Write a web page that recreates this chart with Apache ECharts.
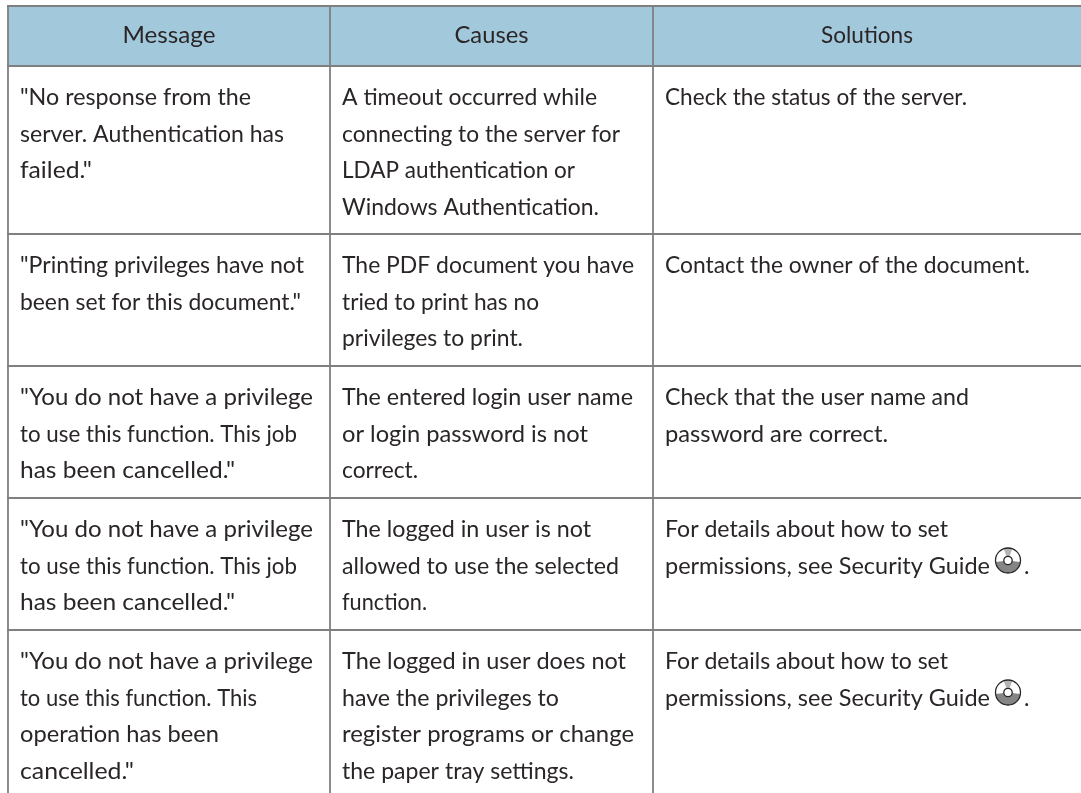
<!DOCTYPE html>
<html><head><meta charset="utf-8">
<style>html,body{margin:0;padding:0;background:#fff}#c{width:1081px;height:793px}</style>
<script src="https://cdn.jsdelivr.net/npm/echarts@6/dist/echarts.min.js"></script>
</head><body><div id="c"></div>
<script>
const columns = ["Message", "Causes", "Solutions"];
const messages = [
 ['"No response from the','server. Authentication has','failed."'],
 ['"Printing privileges have not','been set for this document."'],
 ['"You do not have a privilege','to use this function. This job','has been cancelled."'],
 ['"You do not have a privilege','to use this function. This job','has been cancelled."'],
 ['"You do not have a privilege','to use this function. This','operation has been','cancelled."']
];
const causes = [
 ['A timeout occurred while','connecting to the server for','LDAP authentication or','Windows Authentication.'],
 ['The PDF document you have','tried to print has no','privileges to print.'],
 ['The entered login user name','or login password is not','correct.'],
 ['The logged in user is not','allowed to use the selected','function.'],
 ['The logged in user does not','have the privileges to','register programs or change','the paper tray settings.']
];
const solutions = [
 ['Check the status of the server.'],
 ['Contact the owner of the document.'],
 ['Check that the user name and','password are correct.'],
 ['For details about how to set','permissions, see Security Guide'],
 ['For details about how to set','permissions, see Security Guide']
];
// layout, separate from the content above
const inkWidths = {
 'Message':93,'Causes':74,'Solutions':92,
 '"No response from the':231,'server. Authentication has':264,'failed."':72,
 '"Printing privileges have not':284,'been set for this document."':281,
 '"You do not have a privilege':293,'to use this function. This job':277,'has been cancelled."':215,
 'to use this function. This':237,'operation has been':199,'cancelled."':114,
 'A timeout occurred while':255,'connecting to the server for':278,'LDAP authentication or':233,'Windows Authentication.':257,
 'The PDF document you have':292,'tried to print has no':197,'privileges to print.':181,
 'The entered login user name':291,'or login password is not':246,'correct.':76,
 'The logged in user is not':249,'allowed to use the selected':277,'function.':85,
 'The logged in user does not':284,'have the privileges to':217,'register programs or change':292,'the paper tray settings.':232,
 'Check the status of the server.':302,'Contact the owner of the document.':365,
 'Check that the user name and':304,'password are correct.':223,
 'For details about how to set':283,'permissions, see Security Guide':325
};
const colEdges = [8, 330, 653, 1081];
const rowEdges = [6, 66, 234, 366, 498, 630];
const FONT = '"Lato","Open Sans",sans-serif', SIZE = 23, LH = 36.5, TXT = '#2a2627', GRID = '#7f7f7f';
const font = SIZE+'px '+FONT;
const rows = messages.map((m,i)=>[m,causes[i],solutions[i]]);
const ctx = document.createElement('canvas').getContext('2d');
const el = [];
function fitText(t, x, y, align){
  ctx.font = font;
  const sx = inkWidths[t] ? inkWidths[t]/ctx.measureText(t).width : 1;
  el.push({type:'text', x, y, scaleX:sx, z:5,
    style:{x:0,y:0,text:t,fill:TXT,font,align:align||'left',verticalAlign:'middle'}});
  return x + (inkWidths[t]||0);
}
function disc(cx, cy){
  const R=12.5;
  el.push({type:'circle',z:6,shape:{cx,cy,r:R},style:{fill:'#fff',stroke:'none'}});
  el.push({type:'sector',z:6,shape:{cx,cy,r:R,r0:0,startAngle:0.12,endAngle:Math.PI-0.12},style:{fill:'#858585'}});
  el.push({type:'sector',z:6,shape:{cx,cy,r:R,r0:0,startAngle:-Math.PI/2-0.35,endAngle:-Math.PI/2+0.35},style:{fill:'#b4b4b4'}});
  el.push({type:'circle',z:7,shape:{cx,cy,r:R},style:{fill:'none',stroke:'#2a2627',lineWidth:1.3}});
  el.push({type:'circle',z:7,shape:{cx,cy,r:4.2},style:{fill:'#fff',stroke:'#2a2627',lineWidth:1.3}});
}
const chart = echarts.init(document.getElementById('c'),null,{renderer:'canvas'});
el.push({type:'rect',shape:{x:colEdges[0],y:rowEdges[0],width:1081-colEdges[0],height:rowEdges[1]-rowEdges[0]},style:{fill:'#a2c8dc'}});
const line=(x1,y1,x2,y2)=>el.push({type:'line',z:3,shape:{x1,y1,x2,y2},style:{stroke:GRID,lineWidth:1.8}});
rowEdges.forEach(y=>line(colEdges[0]-1,y,1081,y));
colEdges.slice(0,-1).forEach(x=>line(x,rowEdges[0],x,793));
columns.forEach((t,i)=>fitText(t,(colEdges[i]+colEdges[i+1])/2,36,'center'));
rows.forEach((r,ri)=>r.forEach((lines,ci)=>lines.forEach((t,li)=>{
  const x = colEdges[ci]+12, y = rowEdges[ri+1]+32+li*LH;
  const end = fitText(t,x,y);
  if(t.endsWith('Security Guide')){
    disc(end+18,y-6);
    el.push({type:'text',z:5,style:{x:end+34,y,text:'.',fill:TXT,font,verticalAlign:'middle'}});
  }
})));
chart.setOption({animation:false,backgroundColor:'#fff',graphic:{elements:el}});
</script></body></html>
